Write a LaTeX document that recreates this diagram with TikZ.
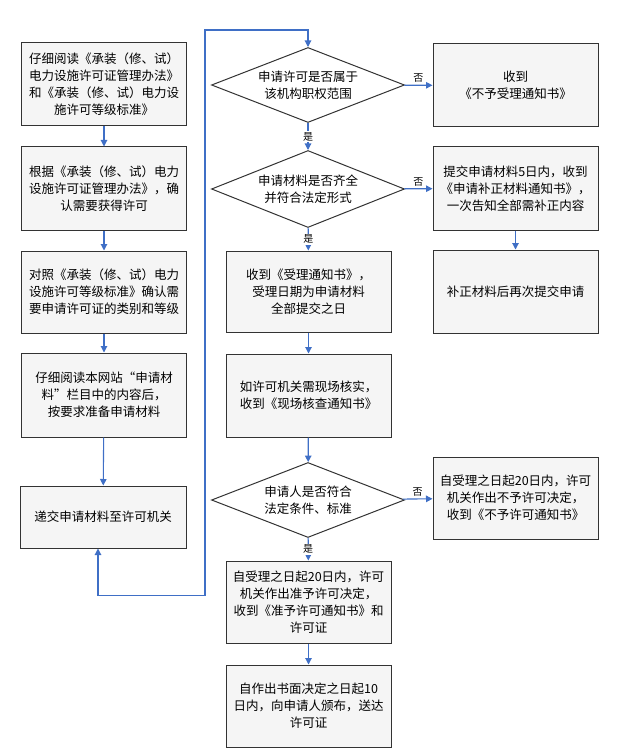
\documentclass[tikz,border=0pt]{standalone}
\usepackage{fontspec}
\setmainfont{Noto Sans CJK SC}
\usetikzlibrary{shapes.geometric,arrows.meta}
\definecolor{flowblue}{HTML}{3F6FC6}
\definecolor{boxgray}{HTML}{F5F5F5}
\definecolor{edgegray}{HTML}{333333}
\begin{document}
\begin{tikzpicture}[x=1pt,y=-1pt,
  stepbox/.style={draw=edgegray,fill=boxgray,line width=1pt,minimum width=165pt,
    inner sep=2pt,align=center,font=\fontsize{12.5}{17}\selectfont},
  decide/.style={diamond,draw=edgegray,fill=white,line width=1pt,aspect=2.57,
    minimum width=193pt,inner sep=0pt,align=center,font=\fontsize{12.5}{17}\selectfont},
  flow/.style={draw=flowblue,line width=1.1pt,-{Triangle[width=6.5pt,length=6.5pt]}},
  yes/.style={fill=white,inner sep=1pt,font=\fontsize{10}{11}\selectfont},
  no/.style={above,inner sep=2pt,font=\fontsize{10}{11}\selectfont}]
\useasboundingbox (0,0) rectangle (616,754);
\node[stepbox,minimum height=83pt] (read) at (104,84.5) {仔细阅读《承装（修、试）\\电力设施许可证管理办法》\\和《承装（修、试）电力设\\施许可等级标准》};
\node[stepbox,minimum height=83pt] (need) at (104,188.5) {根据《承装（修、试）电力\\设施许可证管理办法》，确\\认需要获得许可};
\node[stepbox,minimum height=82pt] (grade) at (104,292) {对照《承装（修、试）电力\\设施许可等级标准》确认需\\要申请许可证的类别和等级};
\node[stepbox,minimum height=84pt] (prepare) at (104,395) {仔细阅读本网站“申请材\\料”栏目中的内容后，\\按要求准备申请材料};
\node[stepbox,minimum height=62pt,minimum width=166pt] (submit) at (103,517) {递交申请材料至许可机关};
\node[decide,minimum height=75pt] (scope) at (308,85) {申请许可是否属于\\该机构职权范围};
\node[decide,minimum height=77pt] (complete) at (308,189) {申请材料是否齐全\\并符合法定形式};
\node[stepbox,minimum height=81pt] (accept) at (308.5,291.5) {收到《受理通知书》，\\受理日期为申请材料\\全部提交之日};
\node[stepbox,minimum height=83pt] (check) at (308.5,395.5) {如许可机关需现场核实，\\收到《现场核查通知书》};
\node[decide,minimum height=75pt] (qualify) at (308,500) {申请人是否符合\\法定条件、标准};
\node[stepbox,minimum height=82pt] (grant) at (308.5,602) {自受理之日起20日内，许可\\机关作出准予许可决定，\\收到《准予许可通知书》和\\许可证};
\node[stepbox,minimum height=82pt] (issue) at (308.5,706) {自作出书面决定之日起10\\日内，向申请人颁布，送达\\许可证};
\node[stepbox,minimum height=83pt] (reject) at (515.5,85.5) {收到\\《不予受理通知书》};
\node[stepbox,minimum height=83pt] (amend) at (515.5,188.5) {提交申请材料5日内，收到\\《申请补正材料通知书》，\\一次告知全部需补正内容};
\node[stepbox,minimum height=83pt] (resubmit) at (515.5,291.5) {补正材料后再次提交申请};
\node[stepbox,minimum height=82pt] (deny) at (515.5,498) {自受理之日起20日内，许可\\机关作出不予许可决定，\\收到《不予许可通知书》};
\draw[flow] (read) -- (need);
\draw[flow] (need) -- (grade);
\draw[flow] (grade) -- (prepare);
\draw[flow] (prepare) -- (submit);
\draw[flow,{Triangle[width=6.5pt,length=6.5pt]}-{Triangle[width=6.5pt,length=6.5pt]}] ([xshift=-5pt]submit.south) -- ++(0,47) -| (205,30) -| (scope.north);
\draw[flow] (scope) -- node[yes] {是} (complete);
\draw[flow] (complete) -- node[yes] {是} (accept);
\draw[flow] (accept) -- (check);
\draw[flow] (check) -- (qualify);
\draw[flow] (qualify) -- node[yes] {是} (grant);
\draw[flow] (grant) -- (issue);
\draw[flow] (scope) -- node[no] {否} (reject);
\draw[flow] (complete) -- node[no] {否} (amend);
\draw[flow] (amend) -- (resubmit);
\draw[flow] (qualify) -- node[no] {否} (deny);
\end{tikzpicture}
\end{document}
